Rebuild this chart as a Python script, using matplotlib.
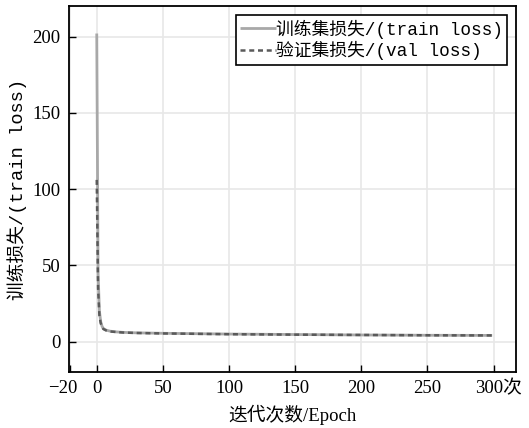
import matplotlib
matplotlib.use("Agg")
import matplotlib.pyplot as plt
import matplotlib.transforms as mtransforms

epochs = [0, 1, 2, 3, 4, 5, 7, 10, 15, 20, 30, 50, 80, 100, 150, 200, 250, 299]
train_loss = [202, 45, 20, 13, 10, 8.5, 7.5, 6.8, 6.3, 6.0, 5.7, 5.4, 5.1, 4.9, 4.6, 4.3, 4.1, 4.0]
val_loss = [106, 35, 17, 12, 9.5, 8.2, 7.3, 6.6, 6.2, 5.9, 5.6, 5.3, 5.0, 4.8, 4.5, 4.3, 4.1, 4.0]

xticks = [-20, 0, 50, 100, 150, 200, 250, 300]
xticklabels = ["\u221220", "0", "50", "100", "150", "200", "250", "300次"]
yticks = [0, 50, 100, 150, 200]
yticklabels = ["0", "50", "100", "150", "200"]

serif = ["Liberation Serif", "Noto Sans CJK SC"]
mono = ["Liberation Mono", "Noto Sans CJK SC"]

fig = plt.figure(figsize=(5.29, 4.28), dpi=100)
ax = fig.add_axes([0.1304, 0.1308, 0.845, 0.855])

ax.plot(epochs, train_loss, color="#a8a8a8", lw=2.0, solid_capstyle="butt",
        label="训练集损失/(train loss)", zorder=3)
ax.plot(epochs, val_loss, color="#5a5a5a", lw=1.8, ls=(0, (2, 1.5)),
        label="验证集损失/(val loss)", zorder=4)

ax.set_xlim(-21, 317)
ax.set_ylim(-20, 220)
ax.tick_params(direction="in", length=5, width=1, colors="black", pad=6)
ax.set_xticks(xticks)
ax.set_xticklabels(xticklabels, family=serif, fontsize=13.5)
ax.set_yticks(yticks)
ax.set_yticklabels(yticklabels, family=serif, fontsize=13.5)
lbls = ax.get_xticklabels()
off = mtransforms.ScaledTranslation(5 / 100, 0, fig.dpi_scale_trans)
lbls[-1].set_transform(lbls[-1].get_transform() + off)
off2 = mtransforms.ScaledTranslation(-8 / 100, 0, fig.dpi_scale_trans)
lbls[0].set_transform(lbls[0].get_transform() + off2)

ax.grid(True, color="#e8e8e8", lw=1.2, zorder=0)
for s in ax.spines.values():
    s.set_linewidth(1.3)
    s.set_color("black")

ax.set_xlabel("迭代次数/Epoch", family=serif, fontsize=13.5, labelpad=5)
ax.set_ylabel("训练损失/(train loss)", family=mono, fontsize=13.5, labelpad=4)

leg = ax.legend(loc="upper right", prop={"family": mono, "size": 12.8},
                frameon=True, fancybox=False, framealpha=1, edgecolor="black",
                borderpad=0.25, handlelength=2.0, handletextpad=0.0,
                labelspacing=0.15, borderaxespad=0.5)
leg.get_frame().set_linewidth(1.2)

fig.savefig("out.png", dpi=100)
